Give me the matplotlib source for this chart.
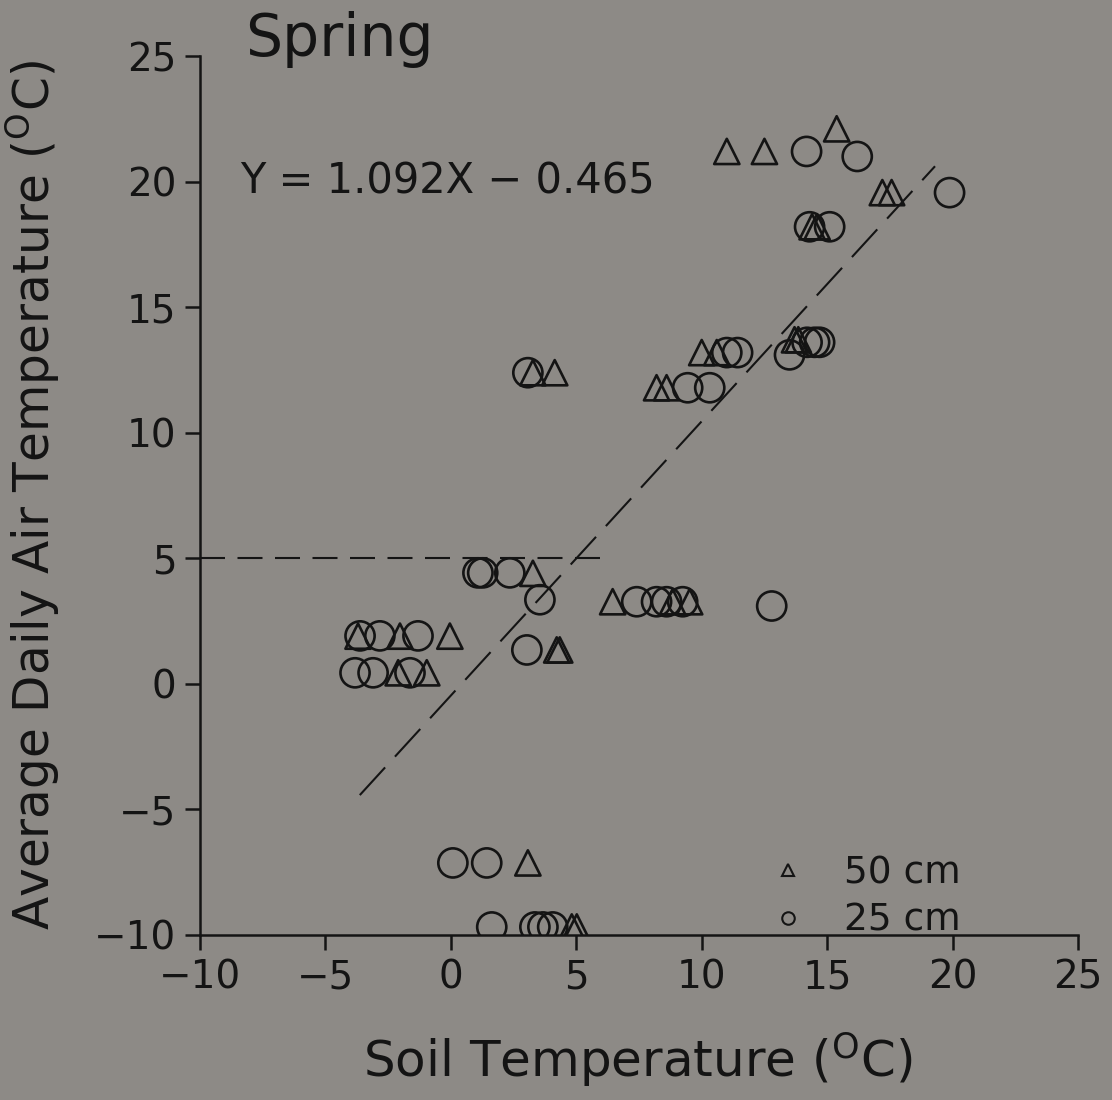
import matplotlib
matplotlib.use("Agg")
import matplotlib.pyplot as plt
from matplotlib.lines import Line2D
import numpy as np

# ---- data ----
tri_x = [3.27, -3.7, -2.03, -0.04, -2.1, -0.96, 4.22, 4.34, 6.45, 8.84, 9.52,
         3.07, 4.82, 5.02, 3.27, 4.14, 8.2, 8.6, 10.0, 10.6, 13.7, 13.85,
         14.4, 14.6, 11.0, 12.5, 15.38, 17.2, 17.57]
tri_y = [4.4, 1.9, 1.9, 1.9, 0.44, 0.44, 1.35, 1.35, 3.27, 3.27, 3.27,
         -7.13, -9.68, -9.68, 12.39, 12.39, 11.79, 11.79, 13.19, 13.19, 13.7, 13.7,
         18.2, 18.2, 21.2, 21.2, 22.1, 19.56, 19.56]
cir_x = [1.08, 1.27, 2.35, 3.55, -3.62, -2.83, -1.31, -3.82, -3.1, -1.63, 3.03,
         7.41, 8.2, 8.6, 9.24, 12.79, 0.08, 1.43, 1.63, 3.35, 3.67, 4.06,
         3.07, 9.44, 10.32, 11.0, 11.43, 13.5, 14.2, 14.5, 14.7, 14.3, 15.1,
         14.18, 16.2, 19.88]
cir_y = [4.42, 4.42, 4.42, 3.35, 1.91, 1.91, 1.91, 0.44, 0.44, 0.44, 1.35,
         3.27, 3.27, 3.27, 3.27, 3.1, -7.13, -7.13, -9.68, -9.68, -9.68, -9.68,
         12.39, 11.79, 11.79, 13.19, 13.19, 13.1, 13.6, 13.6, 13.6, 18.2, 18.2,
         21.2, 21.0, 19.56]
slope, intercept = 1.092, -0.465
fit_x = [-3.63, 19.3]
thresh_y = 5
thresh_x = [-10, 6.1]
ticks = [-10, -5, 0, 5, 10, 15, 20, 25]

bg = "#8d8a86"
ink = "#141414"
plt.rcParams['font.family'] = ['DejaVu Sans']

fig = plt.figure(figsize=(11.12, 11.0), dpi=100, facecolor=bg)
ax = fig.add_axes([200/1112, 1-935/1100, 878/1112, 879/1100])
ax.set_facecolor(bg)

ax.scatter(cir_x, cir_y, s=440, marker='o', facecolors='none', edgecolors=ink, linewidths=1.9, zorder=3)
ax.scatter(tri_x, tri_y, s=330, marker='^', facecolors='none', edgecolors=ink, linewidths=1.9, zorder=3)

fx = np.array(fit_x)
ax.plot(fx, slope*fx + intercept, color=ink, lw=1.5, ls=(0, (18, 7)), zorder=2)
ax.plot(thresh_x, [thresh_y, thresh_y], color=ink, lw=1.5, ls=(0, (12, 6)), zorder=2)

ax.set_xlim(-10, 25)
ax.set_ylim(-10, 25)
ax.set_xticks(ticks)
ax.set_yticks(ticks)
ax.set_xticklabels([str(t).replace('-', '\u2212') for t in ticks])
ax.set_yticklabels([str(t).replace('-', '\u2212') for t in ticks])
for s in ['top', 'right']:
    ax.spines[s].set_visible(False)
for s in ['left', 'bottom']:
    ax.spines[s].set_color(ink)
    ax.spines[s].set_linewidth(1.8)
ax.tick_params(axis='both', colors=ink, labelcolor=ink, labelsize=28,
               length=11, width=1.8, direction='out', pad=6)

ax.set_xlabel("Soil Temperature ($^{\\mathrm{O}}$C)", fontsize=36, color=ink)
ax.set_ylabel("Average Daily Air Temperature ($^{\\mathrm{O}}$C)", fontsize=35, color=ink)
ax.xaxis.set_label_coords(0.498, -0.108)
ax.yaxis.set_label_coords(-0.157, 0.5)

fig.text(245/1112, 1-40/1100, "Spring", fontsize=42, color=ink, va='center', ha='left')
ax.text(-8.4, 20, "Y = 1.092X \u2212 0.465", fontsize=30, color=ink, va='center', ha='left')

handles = [Line2D([], [], marker='^', ls='none', mfc='none', mec=ink, mew=1.5, ms=9),
           Line2D([], [], marker='o', ls='none', mfc='none', mec=ink, mew=1.5, ms=9)]
leg = ax.legend(handles, ["50 cm", "25 cm"], loc='center left',
                bbox_to_anchor=(0.61, 0.043), frameon=False, fontsize=27,
                handletextpad=1.0, labelspacing=0.3, handlelength=1.0)
for t in leg.get_texts():
    t.set_color(ink)

fig.savefig("out.png", dpi=100, facecolor=bg)
